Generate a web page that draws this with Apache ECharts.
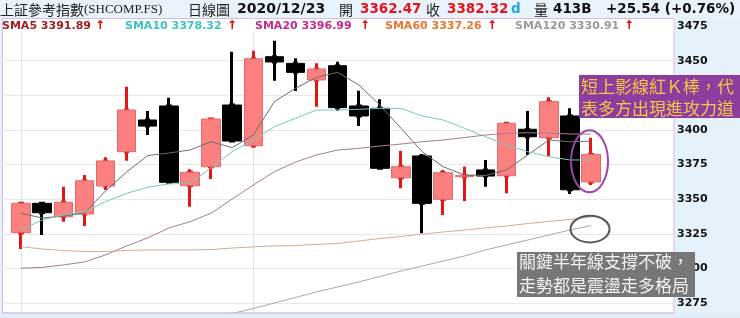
<!DOCTYPE html>
<html>
<head>
<meta charset="utf-8">
<script src="https://cdn.jsdelivr.net/npm/echarts@6/dist/echarts.min.js"></script>
<style>
html,body{margin:0;padding:0;background:#e6f2fb;}
#c{width:740px;height:318px;}
</style>
</head>
<body>
<div id="c"></div>
<script>
// ---- data ----
const dates = ['11/16','11/17','11/18','11/19','11/20','11/23','11/24','11/25','11/26','11/27','11/30',
  '12/01','12/02','12/03','12/04','12/07','12/08','12/09','12/10','12/11','12/14','12/15','12/16','12/17','12/18','12/21','12/22','12/23',
  '12/24','12/25','12/28'];
const opens  = [3325.8,3347.0,3337.3,3339.3,3359.5,3384.3,3407.2,3417.3,3359.7,3373.4,3418.0,3388.6,3452.9,3448.1,3436.1,3446.4,3417.3,3415.6,3365.5,3381.2,3349.9,3366.2,3371.1,3366.9,3400.5,3394.4,3410.1,3362.47];
const closes = [3347.0,3340.2,3347.7,3363.3,3377.6,3414.4,3402.8,3362.2,3369.4,3407.9,3392.0,3451.4,3449.1,3441.6,3444.0,3416.1,3410.1,3372.3,3373.4,3347.0,3369.1,3367.2,3366.7,3404.8,3395.1,3420.4,3356.78,3382.32];
const lows   = [3314.0,3324.1,3333.7,3330.6,3356.6,3377.8,3396.3,3361.5,3344.6,3364.6,3391.5,3387.2,3435.6,3428.1,3416.8,3413.9,3402.8,3371.8,3357.8,3325.3,3338.6,3348.7,3359.0,3354.2,3381.9,3381.2,3353.7,3360.2];
const highs  = [3347.5,3347.7,3359.0,3367.5,3380.2,3431.2,3413.7,3423.3,3371.6,3408.4,3456.5,3457.2,3464.5,3451.7,3448.1,3449.3,3428.3,3422.1,3384.8,3382.6,3371.1,3373.4,3378.3,3406.0,3413.7,3423.6,3415.6,3394.4];

const sma5   = [3339.8,3336.4,3337.8,3340.0,3355.9,3369.6,3381.5,3383.3,3385.5,3391.5,3387.2,3396.3,3420.4,3430.1,3438.0,3441.6,3432.5,3418.0,3401.2,3384.3,3373.4,3367.5,3367.1,3371.1,3381.9,3392.7,3391.5,3391.89];
const sma10  = [3327.7,3335.0,3338.6,3340.9,3348.2,3354.2,3358.6,3361.0,3361.5,3372.5,3384.3,3392.7,3402.3,3408.4,3414.4,3414.4,3414.9,3415.6,3415.6,3410.1,3407.2,3401.2,3395.1,3389.1,3384.3,3380.7,3378.3,3378.32];
const sma20  = [3300.1,3300.7,3302.5,3304.6,3309.7,3316.2,3322.0,3329.2,3333.7,3339.8,3350.1,3360.2,3369.8,3376.8,3381.9,3385.5,3386.7,3388.4,3389.8,3391.5,3392.7,3394.5,3396.3,3397.6,3398.0,3397.6,3397.1,3396.99];
const sma60  = [3315.7,3314.0,3312.9,3312.2,3312.2,3312.9,3313.3,3313.3,3313.3,3313.6,3314.7,3315.5,3316.2,3316.5,3317.3,3318.0,3319.8,3321.6,3323.0,3324.8,3326.3,3327.7,3329.2,3330.6,3332.4,3333.9,3335.3,3337.26];
const sma120 = [null,null,null,null,null,null,null,null,null,3263.5,3267.4,3271.0,3275.0,3279.0,3283.0,3286.6,3290.2,3294.2,3298.1,3301.7,3305.3,3308.9,3313.3,3316.9,3320.5,3324.1,3327.7,3330.91];

const yMin = 3250, yMax = 3500, yStep = 25;

const titleName = '上証參考指數';
const titleCode = '(SHCOMP.FS)';
const chartType = '日線圖';
const dateText = '2020/12/23';
const openLabel = '開', closeLabel = '收', volLabel = '量';
const openText = '3362.47', closeText = '3382.32', volText = '413B', changeText = '+25.54 (+0.76%)';
const note1 = ['短上影線紅Ｋ棒，代', '表多方出現進攻力道'];
const note2 = ['關鍵半年線支撐不破，', '走勢都是震盪走多格局'];

// ---- chart ----
const chart = echarts.init(document.getElementById('c'), null, {renderer: 'canvas'});
const wickData = opens.map((o, i) => [o, closes[i], lows[i], highs[i]]);
const bodyData = opens.map((o, i) => [o, closes[i], Math.min(o, closes[i]), Math.max(o, closes[i])]);

function lineSeries(name, data, color) {
  return {type: 'line', name, data, xAxisIndex: 1, yAxisIndex: 1, symbol: 'none', showSymbol: false,
    silent: true, z: 4, connectNulls: false, lineStyle: {width: 1, color}, emphasis: {disabled: true}};
}

chart.setOption({
  animation: false,
  grid: [
    {left: 2, right: 66, top: -8.5, bottom: -19.6, containLabel: false, outerBoundsMode: 'none'},
    {left: 10.5, right: 75.1, top: -8.5, bottom: -19.6, containLabel: false, outerBoundsMode: 'none'}
  ],
  xAxis: [
    {gridIndex: 0, type: 'value', min: 0, max: 1, show: false},
    {gridIndex: 1, type: 'category', data: dates, boundaryGap: true, show: false}
  ],
  yAxis: [
    {gridIndex: 0, type: 'value', position: 'right', min: yMin, max: yMax, interval: yStep,
      axisLine: {show: false}, axisTick: {show: false},
      axisLabel: {margin: 3, color: '#111', fontWeight: 'bold', fontSize: 11, fontFamily: 'DejaVu Sans',
        formatter: v => String(v)},
      splitLine: {show: true, lineStyle: {color: '#e8e8e8', width: 1}}},
    {gridIndex: 1, type: 'value', min: yMin, max: yMax, show: false, splitLine: {show: false}}
  ],
  series: [
    {type: 'candlestick', name: 'wick', data: wickData, xAxisIndex: 1, yAxisIndex: 1, barWidth: 3, z: 2, silent: true,
      itemStyle: {color: '#e31515', color0: '#000', borderColor: '#e31515', borderColor0: '#000', borderWidth: 3},
      markLine: {silent: true, z: 1, symbol: ['none', 'none'], label: {show: false}, animation: false,
        lineStyle: {color: '#d6e1eb', width: 1, type: 'solid'},
        data: [{xAxis: dates[0]}, {xAxis: dates[11]}]}},
    {type: 'candlestick', name: 'body', data: bodyData, xAxisIndex: 1, yAxisIndex: 1, barWidth: 19, z: 3, silent: true,
      itemStyle: {color: '#fd8080', color0: '#000', borderColor: '#e06868', borderColor0: '#000', borderWidth: 1}},
    lineSeries('SMA5', sma5, '#6e6e6e'),
    lineSeries('SMA10', sma10, '#72c9c2'),
    lineSeries('SMA20', sma20, '#a97a9c'),
    lineSeries('SMA60', sma60, '#d9aa8c'),
    lineSeries('SMA120', sma120, '#b3a3ad')
  ]
});

function txt(t, x, y, font, fill, z) {
  return {type: 'text', x, y, z: z || 60, silent: true,
    style: {text: t, font, fill, align: 'left', verticalAlign: 'middle', textAlign: 'left', textVerticalAlign: 'middle'}};
}
const cjk = "'Noto Sans CJK TC'";
const g = [];
// plot frame
g.push({type: 'rect', z: -10, silent: true, shape: {x: 2.5, y: 18.5, width: 671.5, height: 294.5},
  style: {fill: '#ffffff', stroke: '#d8b8e0', lineWidth: 1}});
// header strip, bottom strip, legend row
g.push({type: 'rect', z: 50, silent: true, shape: {x: 0, y: 0, width: 740, height: 18}, style: {fill: '#e8f3fb'}});
g.push({type: 'rect', z: 50, silent: true, shape: {x: 0, y: 313.5, width: 740, height: 5}, style: {fill: '#e0eef9'}});
g.push({type: 'line', z: 51, silent: true, shape: {x1: 2, y1: 313, x2: 674.5, y2: 313}, style: {stroke: '#d8b8e0', lineWidth: 1}});
g.push({type: 'rect', z: 55, silent: true, shape: {x: 3, y: 19, width: 670.5, height: 14}, style: {fill: '#ffffff'}});

// header texts
const hy = 9.5;
g.push(txt(titleName, 0, hy, "14px " + cjk, '#222'));
g.push(txt(titleCode, 84, hy, "13px 'Liberation Serif'", '#222'));
g.push(txt(chartType, 188, hy, "14px " + cjk, '#222'));
g.push(txt(dateText, 237, hy, "bold 14px 'DejaVu Sans'", '#111'));
g.push(txt(openLabel, 339, hy, "14px " + cjk, '#222'));
g.push(txt(openText, 360, hy, "bold 13.5px 'DejaVu Sans'", '#e8141c'));
g.push(txt(closeLabel, 426, hy, "14px " + cjk, '#222'));
g.push(txt(closeText, 447, hy, "bold 13.5px 'DejaVu Sans'", '#e8141c'));
g.push(txt('d', 511, hy, "bold 13.5px 'DejaVu Sans'", '#27a7e0'));
g.push(txt(volLabel, 534, hy, "14px " + cjk, '#222'));
g.push(txt(volText, 553, hy, "bold 13.5px 'DejaVu Sans'", '#111'));
g.push(txt(changeText, 606, hy, "bold 13.5px 'DejaVu Sans'", '#111'));

// SMA legend row
const legendDefs = [
  ['SMA5', sma5, '#9e1b1b', 2, 95],
  ['SMA10', sma10, '#3cc2c2', 125, 227],
  ['SMA20', sma20, '#c4288a', 255, 360],
  ['SMA60', sma60, '#e8772e', 385, 487],
  ['SMA120', sma120, '#9a9a9a', 515, 624]
];
legendDefs.forEach(([n, arr, col, x, ax]) => {
  g.push(txt(n + ' ' + arr[arr.length - 1].toFixed(2), x, 26, "bold 11px 'DejaVu Sans'", col, 60));
  g.push(txt('↑', ax, 26, "bold 12px 'DejaVu Sans'", '#e00000', 60));
});

// annotation boxes
g.push({type: 'rect', z: 70, silent: true, shape: {x: 579, y: 75, width: 161, height: 43}, style: {fill: '#8c3e9e'}});
g.push(txt(note1[0], 581, 87, "17px " + cjk, '#f6c445', 71));
g.push(txt(note1[1], 581, 108.5, "17px " + cjk, '#f6c445', 71));
g.push({type: 'rect', z: 70, silent: true, shape: {x: 517, y: 252, width: 178, height: 45}, style: {fill: '#777777'}});
g.push(txt(note2[0], 519, 262, "17px " + cjk, '#f2f2f2', 71));
g.push(txt(note2[1], 519, 285.5, "17px " + cjk, '#f2f2f2', 71));

// ellipses anchored to data
const last = opens.length - 1;
const pc = chart.convertToPixel({seriesIndex: 1}, [last, (highs[last] + lows[last]) / 2]);
g.push({type: 'ellipse', z: 65, silent: true, shape: {cx: pc[0] - 1.5, cy: pc[1], rx: 18.5, ry: 31},
  style: {fill: null, stroke: '#9b47aa', lineWidth: 2}});
const ps = chart.convertToPixel({seriesIndex: 6}, [last, sma120[last]]);
g.push({type: 'ellipse', z: 65, silent: true, shape: {cx: ps[0] - 1, cy: ps[1] + 3.5, rx: 19.5, ry: 13.3},
  style: {fill: null, stroke: '#555555', lineWidth: 2}});

chart.setOption({graphic: {elements: g}});
</script>
</body>
</html>
